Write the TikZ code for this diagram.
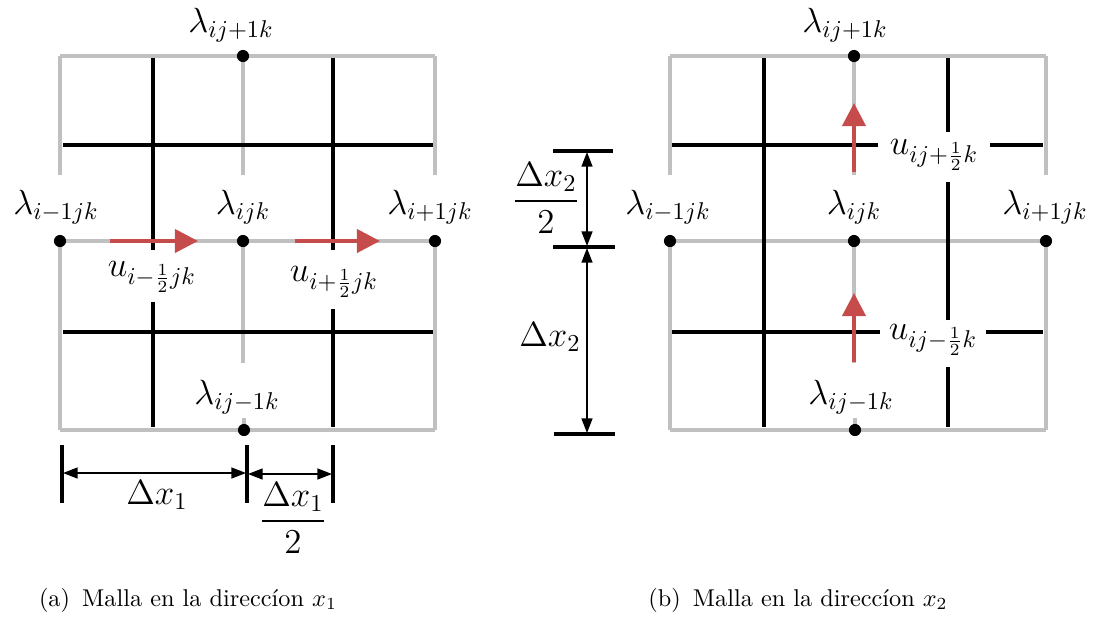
\documentclass[tikz,border=0pt]{standalone}
\usepackage{amsmath}
\usepackage{fontspec}
\usetikzlibrary{arrows.meta}
\definecolor{gridgray}{RGB}{192,192,192}
\definecolor{arrred}{RGB}{198,76,76}
\tikzset{
  graylin/.style={draw=gridgray, line width=1.6pt},
  blacklin/.style={draw=black, line width=1.8pt},
  gdot/.style={circle, fill=black, inner sep=0pt, minimum size=5pt},
  lab/.style={font=\Large, inner sep=1pt},
  redarr/.style={draw=arrred, line width=1.6pt, -{Triangle[length=9.5pt,width=9.5pt]}},
  dimarr/.style={line width=0.6pt, {Triangle[length=6pt,width=4.5pt]}-{Triangle[length=6pt,width=4.5pt]}},
  dimtick/.style={line width=1.8pt},
  captxt/.style={font=\normalsize, inner sep=1pt}
}
\begin{document}
\begin{tikzpicture}[x=0.412pt,y=-0.412pt]
\useasboundingbox (0,0) rectangle (1100,619);
% ================= LEFT GRID =================
% gray lines
\draw[graylin] (60,56) -- (435,56);
\draw[graylin] (60,241) -- (435,241);
\draw[graylin] (60,430) -- (435,430);
\draw[graylin] (60,56) -- (60,175);
\draw[graylin] (60,241) -- (60,430);
\draw[graylin] (243,56) -- (243,175);
\draw[graylin] (243,241) -- (243,363);
\draw[graylin] (244,418) -- (244,430);
\draw[graylin] (435,56) -- (435,175);
\draw[graylin] (435,241) -- (435,430);
% black lines
\draw[blacklin] (63,145) -- (433,145);
\draw[blacklin] (63,332) -- (433,332);
\draw[blacklin] (153,58) -- (153,250);
\draw[blacklin] (153,302) -- (153,427);
\draw[blacklin] (333,58) -- (333,250);
\draw[blacklin] (333,309) -- (333,427);
% dots
\node[gdot] (La) at (60,241) {};
\node[gdot] (Lb) at (243,241) {};
\node[gdot] (Lc) at (435,241) {};
\node[gdot] (Ld) at (243,56) {};
\node[gdot] (Le) at (244,430) {};
% red arrows
\coordinate (LuA1) at (110,241); \coordinate (LuA2) at (198,241);
\coordinate (LuB1) at (295,241); \coordinate (LuB2) at (380,241);
\draw[redarr] (LuA1) -- (LuA2);
\draw[redarr] (LuB1) -- (LuB2);
% labels
\node[lab] (Lt) at (231,25) {$\lambda_{ij+1k}$};
\node[lab] (Ll) at (56,207) {$\lambda_{i-1jk}$};
\node[lab] (Lm) at (243,207) {$\lambda_{ijk}$};
\node[lab] (Lr) at (430,207) {$\lambda_{i+1jk}$};
\node[lab] (Lu1) at (152,277) {$u_{i-\frac{1}{2}jk}$};
\node[lab] (Lu2) at (334,282) {$u_{i+\frac{1}{2}jk}$};
\node[lab] (Lbt) at (237,397) {$\lambda_{ij-1k}$};
% dimensions
\coordinate (T1a) at (62,445); \coordinate (T1b) at (62,503);
\coordinate (T2a) at (247,445); \coordinate (T2b) at (247,503);
\coordinate (T3a) at (333,445); \coordinate (T3b) at (333,503);
\draw[dimtick] (T1a) -- (T1b);
\draw[dimtick] (T2a) -- (T2b);
\draw[dimtick] (T3a) -- (T3b);
\coordinate (D1a) at (63,473); \coordinate (D1b) at (246,473);
\coordinate (D2a) at (248,474); \coordinate (D2b) at (332,474);
\draw[dimarr] (D1a) -- (D1b);
\draw[dimarr] (D2a) -- (D2b);
\node[lab] (Ldx) at (157,495) {$\Delta x_1$};
\node[lab] (Ldx2) at (293,518) {$\dfrac{\Delta x_1}{2}$};
\node[captxt] (capa) at (188,600) {(a)\enspace Malla en la direccíon $x_1$};
% ================= RIGHT GRID =================
\draw[graylin] (670,56) -- (1046,56);
\draw[graylin] (670,241) -- (1046,241);
\draw[graylin] (670,430) -- (1046,430);
\draw[graylin] (670,56) -- (670,175);
\draw[graylin] (670,241) -- (670,430);
\draw[graylin] (854,56) -- (854,175);
\draw[graylin] (854,241) -- (854,363);
\draw[graylin] (855,418) -- (855,430);
\draw[graylin] (1046,56) -- (1046,175);
\draw[graylin] (1046,241) -- (1046,430);
% black lines
\draw[blacklin] (672,145) -- (878,145);
\draw[blacklin] (990,145) -- (1043,145);
\draw[blacklin] (672,332) -- (880,332);
\draw[blacklin] (986,332) -- (1043,332);
\draw[blacklin] (764,58) -- (764,427);
\draw[blacklin] (948,58) -- (948,132);
\draw[blacklin] (948,182) -- (948,320);
\draw[blacklin] (948,367) -- (948,427);
% dots
\node[gdot] (Ra) at (670,241) {};
\node[gdot] (Rb) at (854,241) {};
\node[gdot] (Rc) at (1046,241) {};
\node[gdot] (Rd) at (854,56) {};
\node[gdot] (Re) at (855,430) {};
% red arrows
\coordinate (RuA1) at (854,172); \coordinate (RuA2) at (854,103);
\coordinate (RuB1) at (854,362); \coordinate (RuB2) at (854,293);
\draw[redarr] (RuA1) -- (RuA2);
\draw[redarr] (RuB1) -- (RuB2);
% labels
\node[lab] (Rt) at (845,25) {$\lambda_{ij+1k}$};
\node[lab] (Rl) at (668,207) {$\lambda_{i-1jk}$};
\node[lab] (Rm) at (854,207) {$\lambda_{ijk}$};
\node[lab] (Rr) at (1045,207) {$\lambda_{i+1jk}$};
\node[lab] (Ru1) at (934,155) {$u_{ij+\frac{1}{2}k}$};
\node[lab] (Ru2) at (933,340) {$u_{ij-\frac{1}{2}k}$};
\node[lab] (Rbt) at (851,397) {$\lambda_{ij-1k}$};
% dimensions
\coordinate (S1a) at (553,151); \coordinate (S1b) at (613,151);
\coordinate (S2a) at (553,247); \coordinate (S2b) at (615,247);
\coordinate (S3a) at (554,434); \coordinate (S3b) at (615,434);
\draw[dimtick] (S1a) -- (S1b);
\draw[dimtick] (S2a) -- (S2b);
\draw[dimtick] (S3a) -- (S3b);
\coordinate (E1a) at (587,152); \coordinate (E1b) at (587,246);
\coordinate (E2a) at (587,248); \coordinate (E2b) at (587,433);
\draw[dimarr] (E1a) -- (E1b);
\draw[dimarr] (E2a) -- (E2b);
\node[lab] (Rdx2) at (546,198) {$\dfrac{\Delta x_2}{2}$};
\node[lab] (Rdx) at (550,337) {$\Delta x_2$};
\node[captxt] (capb) at (798,600) {(b)\enspace Malla en la direccíon $x_2$};
\end{tikzpicture}
\end{document}
